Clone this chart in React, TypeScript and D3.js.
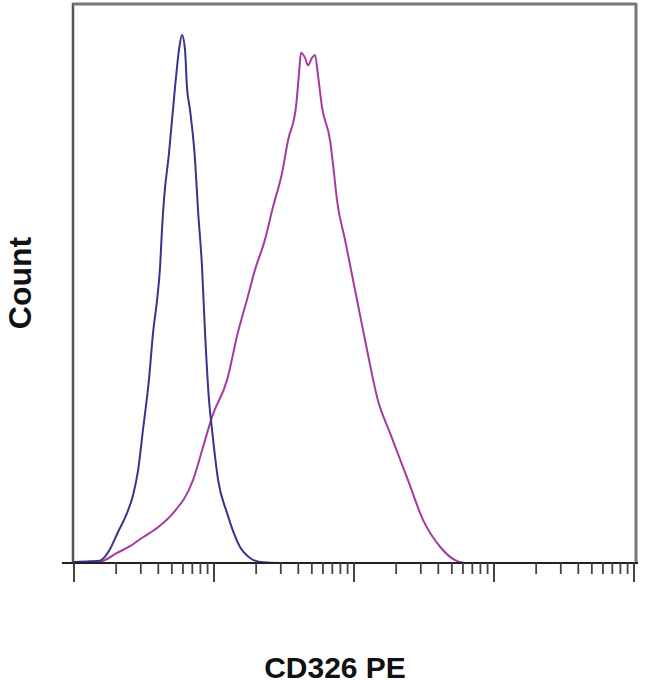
import React from "react";
import * as d3 from "d3";

// Control (isotype) histogram: intensity vs count (% of max)
const controlIntensity = [1.0, 1.3, 1.53, 1.66, 1.81, 2.06, 2.39, 2.64, 2.87, 3.11, 3.43, 3.67, 3.92, 4.12, 4.25, 4.39, 4.77, 5.27, 5.62, 5.91, 6.21, 6.41, 6.74, 7.32, 7.69, 8.21, 8.63, 9.21, 9.68, 10.7, 12.4, 15.3, 18.1, 21.3, 29.6, 10000];
const controlCount = [0.2, 0.3, 0.4, 1.1, 2.5, 5.5, 8.9, 12.1, 16.6, 23.8, 32.7, 41.1, 47.0, 52.9, 59.5, 64.8, 73.2, 85.0, 91.6, 94.3, 91.6, 85.0, 80.9, 72.0, 63.0, 52.9, 41.1, 29.1, 23.8, 14.8, 8.9, 2.9, 0.9, 0.2, 0, 0];

// CD326 PE stained histogram
const stainedIntensity = [1.0, 1.3, 1.53, 2.03, 2.51, 3.11, 3.98, 5.1, 7.08, 8.35, 9.68, 12.4, 14.8, 17.2, 19.6, 23.1, 26.4, 30.6, 33.8, 38.5, 40.5, 41.8, 44.7, 46.9, 50.1, 52.7, 55.3, 59.1, 67.4, 72.0, 75.6, 86.3, 105, 124, 148, 181, 243, 311, 412, 527, 621, 10000];
const stainedCount = [0.1, 0.1, 0.2, 1.8, 3.0, 4.6, 6.4, 8.9, 14.8, 20.7, 26.1, 32.7, 41.1, 47.0, 52.3, 57.7, 63.6, 69.6, 75.5, 81.4, 87.5, 91.1, 90.2, 88.9, 90.2, 90.7, 87.1, 81.4, 75.5, 69.6, 64.8, 57.7, 47.0, 38.0, 29.1, 23.2, 14.8, 7.7, 2.9, 0.5, 0, 0];

const xDomain = [1, 10000];
const yDomain = [0, 100];
const xLabel = "CD326 PE";
const yLabel = "Count";

export default function App() {
  const W = 650, H = 686;
  const left = 74, right = 634, top = 3, bottom = 563;
  const x = d3.scaleLog().domain(xDomain).range([left, right]);
  const y = d3.scaleLinear().domain(yDomain).range([bottom, top]);

  const mk = (xs: number[], ys: number[]) =>
    d3.line<number>()
      .x((_, i) => x(xs[i]))
      .y((_, i) => y(ys[i]))
      .curve(d3.curveMonotoneX)(xs.map((_, i) => i)) || "";

  const ticks = x.ticks();
  const isMajor = (v: number) => Math.abs(Math.log10(v) - Math.round(Math.log10(v))) < 1e-9;

  return (
    <svg width={W} height={H} style={{ position: "absolute", left: 0, top: 0, background: "#fff" }}>
      {/* frame */}
      <line x1={left - 1} x2={left - 1} y1={top} y2={bottom} stroke="#555" strokeWidth={2.5} />
      <line x1={left - 1} x2={right + 2} y1={top + 1} y2={top + 1} stroke="#777" strokeWidth={3} />
      <line x1={right + 2} x2={right + 2} y1={top} y2={bottom} stroke="#777" strokeWidth={3} />
      {/* data */}
      <path d={mk(stainedIntensity, stainedCount)} fill="none" stroke="#a63aa0" strokeWidth={2} strokeLinejoin="round" />
      <path d={mk(controlIntensity, controlCount)} fill="none" stroke="#36358c" strokeWidth={2} strokeLinejoin="round" />
      {/* x axis */}
      <line x1={62} x2={right + 4} y1={bottom} y2={bottom} stroke="#222" strokeWidth={2} />
      {ticks.map((t, i) => (
        <line key={i} x1={x(t)} x2={x(t)} y1={bottom} y2={isMajor(t) ? bottom + 19 : bottom + 11}
          stroke="#444" strokeWidth={isMajor(t) ? 2 : 1.8} />
      ))}
      {/* labels */}
      <text x={335} y={678} textAnchor="middle" fontFamily="Liberation Sans, Arial, sans-serif" fontWeight="bold" fontSize={30} fill="#111">{xLabel}</text>
      <text transform={`translate(31,283) rotate(-90)`} textAnchor="middle" fontFamily="Liberation Sans, Arial, sans-serif" fontWeight="bold" fontSize={32} fill="#111">{yLabel}</text>
    </svg>
  );
}
